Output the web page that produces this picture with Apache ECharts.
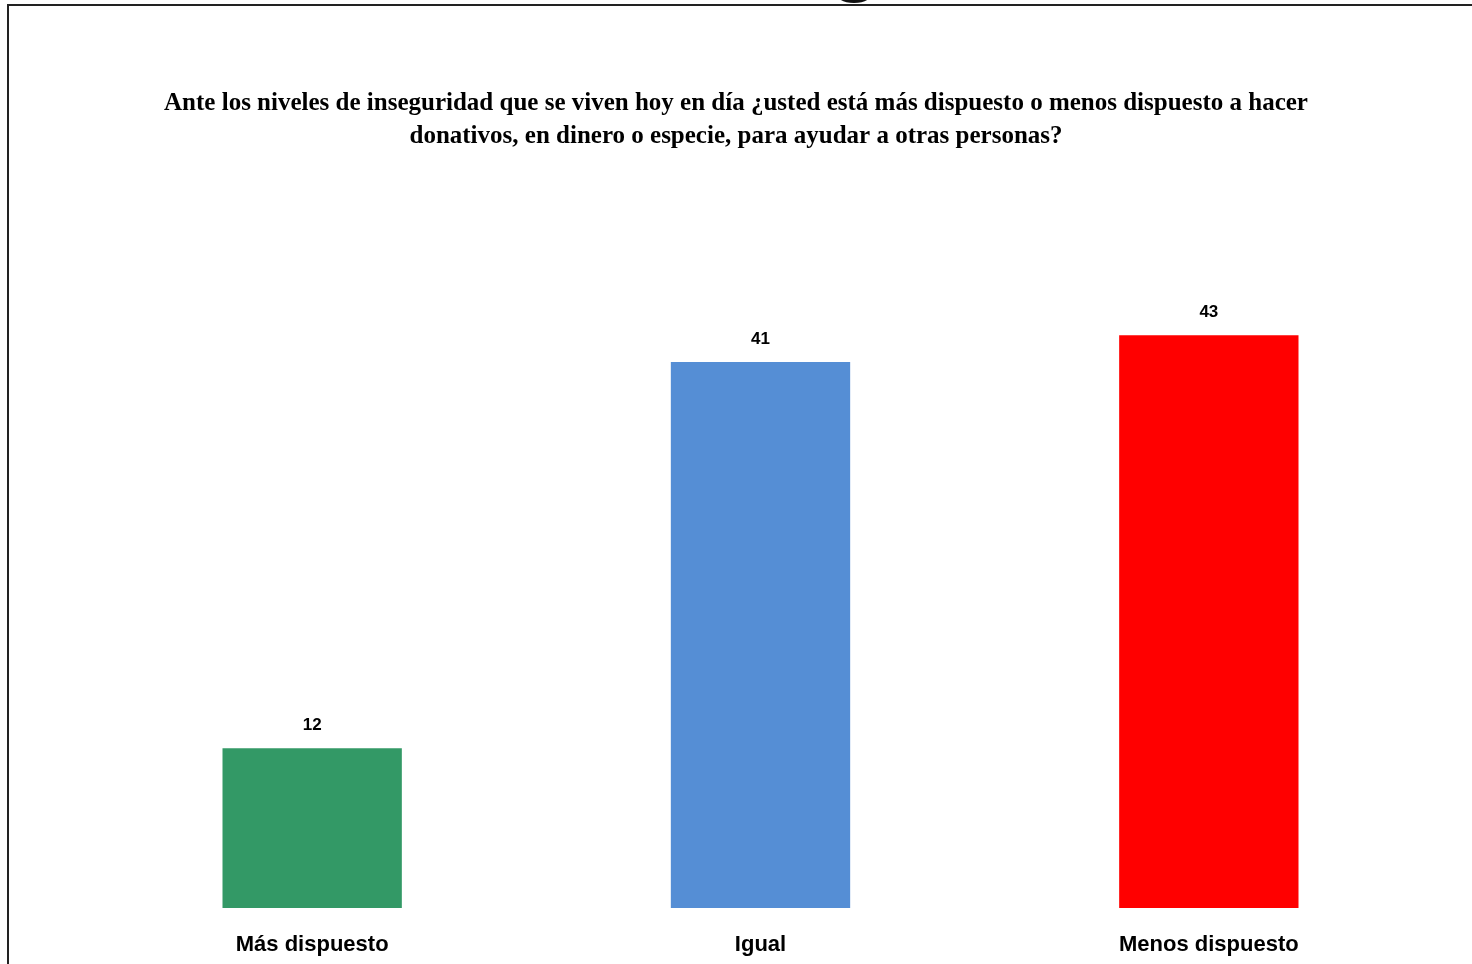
<!DOCTYPE html>
<html>
<head>
<meta charset="utf-8">
<script src="https://cdn.jsdelivr.net/npm/echarts@6/dist/echarts.min.js"></script>
<style>
  html, body { margin: 0; padding: 0; background: #fff; }
  #chart { width: 1472px; height: 964px; }
</style>
</head>
<body>
<div id="chart"></div>
<script>
// Survey answers and their percentages
const categories = ['Más dispuesto', 'Igual', 'Menos dispuesto'];
const values = [12, 41, 43];
const barColors = ['#339966', '#558ED5', '#FF0000'];
const titleText = 'Ante los niveles de inseguridad que se viven hoy en día ¿usted está más dispuesto o menos dispuesto a hacer\ndonativos, en dinero o especie, para ayudar a otras personas?';

const chart = echarts.init(document.getElementById('chart'), null, { renderer: 'canvas' });

chart.setOption({
  animation: false,
  backgroundColor: '#ffffff',
  title: {
    text: titleText,
    left: 'center',
    top: 82,
    textStyle: {
      fontFamily: '"Liberation Serif", "Times New Roman", serif',
      fontWeight: 'bold',
      fontSize: 25,
      lineHeight: 33,
      color: '#000'
    }
  },
  graphic: [
    {
      type: 'rect',
      silent: true,
      shape: { x: 8, y: 5, width: 1500, height: 1000 },
      style: { fill: 'none', stroke: '#222', lineWidth: 2 }
    },
    {
      type: 'ellipse',
      silent: true,
      shape: { cx: 854, cy: -4, rx: 16, ry: 7 },
      style: { fill: '#111' }
    }
  ],
  grid: { left: 88, right: 39, top: 242, bottom: 56 },
  xAxis: {
    type: 'category',
    data: categories,
    axisLine: { show: false },
    axisTick: { show: false },
    axisLabel: {
      margin: 26,
      fontFamily: '"Liberation Sans", Arial, sans-serif',
      fontWeight: 'bold',
      fontSize: 22,
      color: '#000'
    }
  },
  yAxis: {
    type: 'value',
    min: 0,
    max: 50,
    show: false,
    splitLine: { show: false }
  },
  series: [{
    type: 'bar',
    barWidth: '40%',
    data: values.map((v, i) => ({ value: v, itemStyle: { color: barColors[i] } })),
    label: {
      show: true,
      position: 'top',
      distance: 14,
      fontFamily: '"Liberation Sans Narrow", "Arial Narrow", "Liberation Sans", sans-serif',
      fontWeight: 'bold',
      fontSize: 17,
      color: '#000'
    }
  }]
});
</script>
</body>
</html>
